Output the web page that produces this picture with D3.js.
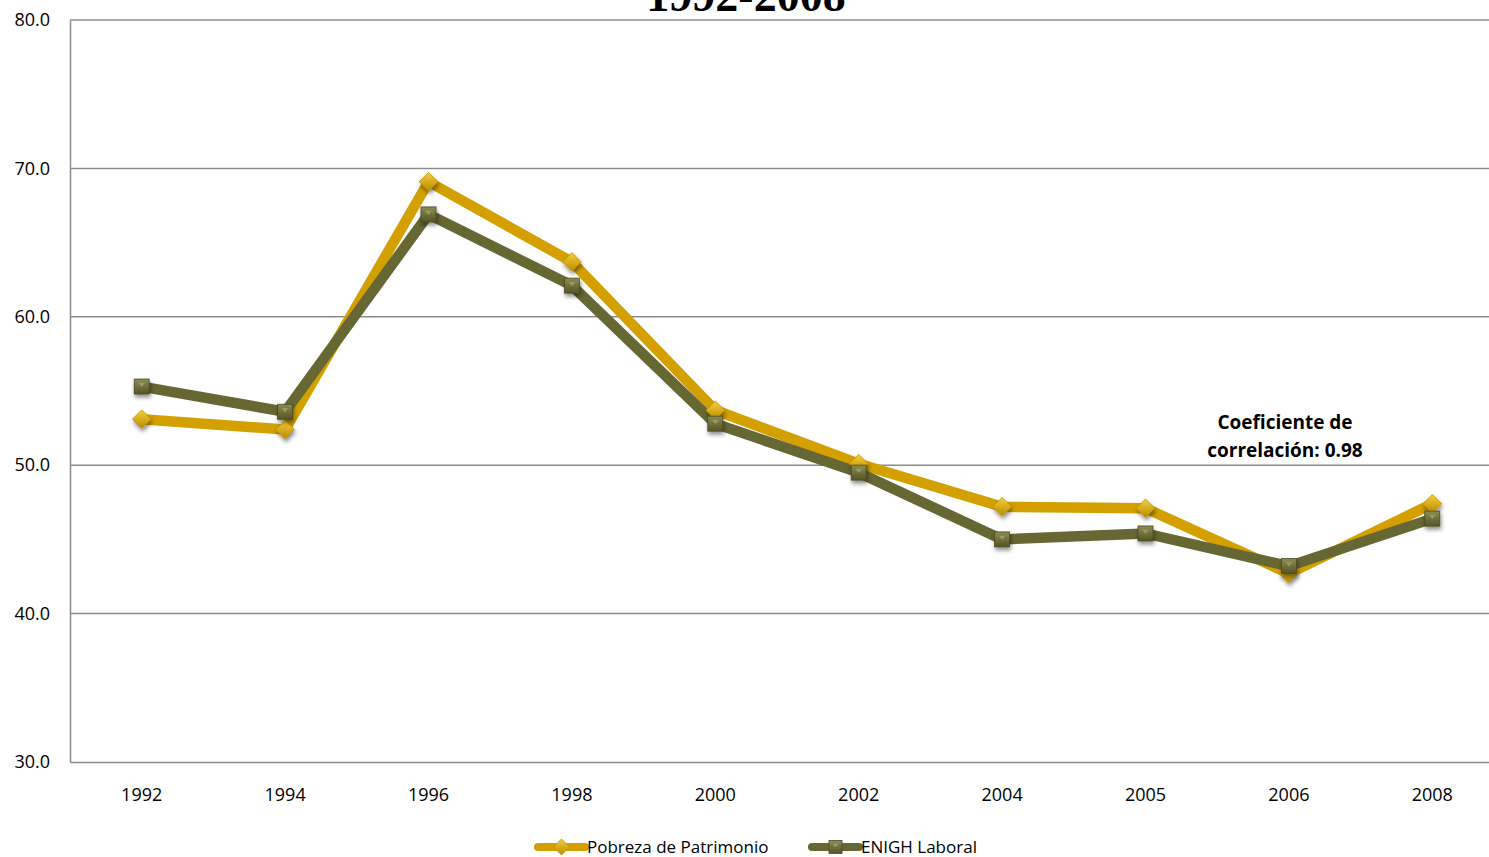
<!DOCTYPE html>
<html>
<head>
<meta charset="utf-8">
<script src="https://cdn.jsdelivr.net/npm/d3@7"></script>
<style>
  body { margin: 0; background: #fff; overflow: hidden; }
  text { font-family: "Open Sans", "DejaVu Sans", sans-serif; }
</style>
</head>
<body>
<svg id="chart" width="1489" height="857"></svg>
<script>
const years = ["1992", "1994", "1996", "1998", "2000", "2002", "2004", "2005", "2006", "2008"];
const pobreza = [53.1, 52.4, 69.1, 63.7, 53.7, 50.1, 47.2, 47.1, 42.7, 47.4];
const enigh = [55.3, 53.6, 66.9, 62.1, 52.8, 49.5, 45.0, 45.4, 43.2, 46.4];
const yTicks = [30, 40, 50, 60, 70, 80];
const seriesNames = ["Pobreza de Patrimonio", "ENIGH Laboral"];

const svg = d3.select("#chart");
const plotLeft = 70, plotTop = 20, plotBottom = 762, bandW = 143.4;

const defs = svg.append("defs");
const sh = defs.append("filter").attr("id", "shadow").attr("x", "-50%").attr("y", "-50%").attr("width", "200%").attr("height", "200%");
sh.append("feDropShadow").attr("dx", 1).attr("dy", 3).attr("stdDeviation", 2).attr("flood-opacity", 0.45);

const gGold = defs.append("linearGradient").attr("id", "gGold").attr("x1", 0).attr("y1", 0).attr("x2", 0).attr("y2", 1);
gGold.append("stop").attr("offset", "0%").attr("stop-color", "#f6cf3a");
gGold.append("stop").attr("offset", "100%").attr("stop-color", "#b98c00");
const gOlive = defs.append("linearGradient").attr("id", "gOlive").attr("x1", 0).attr("y1", 0).attr("x2", 0).attr("y2", 1);
gOlive.append("stop").attr("offset", "0%").attr("stop-color", "#8c8c52");
gOlive.append("stop").attr("offset", "100%").attr("stop-color", "#545426");

const x = d3.scaleBand().domain(years).range([plotLeft, plotLeft + bandW * years.length]);
const y = d3.scaleLinear().domain([30, 80]).range([plotBottom, plotTop]);

// title (mostly cut off at the top, as in the original)
svg.append("text").attr("x", 746).attr("y", 11).attr("text-anchor", "middle")
  .style("font-family", "'Liberation Serif', 'Times New Roman', serif")
  .style("font-weight", "bold").style("font-size", "46px").text("1992-2008");

// gridlines
svg.append("g").selectAll("line").data(yTicks.slice(1)).enter().append("line")
  .attr("x1", plotLeft).attr("x2", 1489)
  .attr("y1", d => y(d)).attr("y2", d => y(d))
  .attr("stroke", "#8c8c8c").attr("stroke-width", 1.5);

// y axis
const yAxis = svg.append("g").attr("transform", `translate(${plotLeft},0)`)
  .call(d3.axisLeft(y).tickValues(yTicks).tickFormat(d3.format(".1f")).tickSize(0).tickPadding(20));
yAxis.select(".domain").attr("stroke", "#8c8c8c").attr("stroke-width", 1.5);
yAxis.selectAll("text").style("font-size", "18px").attr("fill", "#000");

// x axis
const xAxis = svg.append("g").attr("transform", `translate(0,${plotBottom})`)
  .call(d3.axisBottom(x).tickSize(0).tickPadding(26));
xAxis.select(".domain").attr("stroke", "#8c8c8c").attr("stroke-width", 1.5);
xAxis.selectAll("text").style("font-size", "18px").attr("fill", "#000");

const cx = d => x(d) + x.bandwidth() / 2;
const line = d3.line().x(d => cx(d.year)).y(d => y(d.v));

const series = [
  { name: seriesNames[0], values: pobreza, color: "#d3a000", shape: "diamond", grad: "url(#gGold)" },
  { name: seriesNames[1], values: enigh, color: "#676734", shape: "square", grad: "url(#gOlive)" }
];

function marker(g, shape, grad, size) {
  if (shape === "diamond") {
    const s = size * 0.62;
    g.append("path").attr("d", `M0,${-s} L${s},0 L0,${s} L${-s},0 Z`)
      .attr("fill", grad).attr("stroke", "#c49200").attr("stroke-width", 0.8);
  } else {
    const s = size / 2;
    g.append("rect").attr("x", -s).attr("y", -s).attr("width", size).attr("height", size)
      .attr("fill", grad).attr("stroke", "#4a4a22").attr("stroke-width", 0.8);
    g.append("path").attr("d", `M${-s * 0.45},${-s * 0.5} L${s * 0.45},${-s * 0.5} L0,${s * 0.05} Z`)
      .attr("fill", "#a3a36a").attr("opacity", 0.8);
  }
}

series.forEach(s => {
  const data = years.map((yr, i) => ({ year: yr, v: s.values[i] }));
  svg.append("path").datum(data).attr("d", line)
    .attr("fill", "none").attr("stroke", s.color).attr("stroke-width", 10.5)
    .attr("stroke-linejoin", "miter");
});

series.forEach(s => {
  const data = years.map((yr, i) => ({ year: yr, v: s.values[i] }));
  svg.append("g").selectAll("g").data(data).enter().append("g")
    .attr("transform", d => `translate(${cx(d.year)},${y(d.v)})`)
    .attr("filter", "url(#shadow)")
    .each(function () { marker(d3.select(this), s.shape, s.grad, 15); });
});

// annotation
const ann = svg.append("text").attr("text-anchor", "middle")
  .style("font-weight", "bold").style("font-size", "19px").attr("fill", "#000");
ann.append("tspan").attr("x", 1285).attr("y", 429).text("Coeficiente de");
ann.append("tspan").attr("x", 1285).attr("y", 457).text("correlación: 0.98");

// legend
const legendX = [538, 812];
series.forEach((s, i) => {
  const lg = svg.append("g").attr("transform", `translate(${legendX[i]},847)`);
  lg.append("line").attr("x1", 0).attr("x2", 47).attr("y1", 0).attr("y2", 0)
    .attr("stroke", s.color).attr("stroke-width", 8).attr("stroke-linecap", "round");
  const m = lg.append("g").attr("transform", "translate(23.5,0)");
  marker(m, s.shape, s.grad, 13);
  lg.append("text").attr("x", 49).attr("y", 6).style("font-size", "17px").attr("fill", "#000").text(s.name);
});
</script>
</body>
</html>
